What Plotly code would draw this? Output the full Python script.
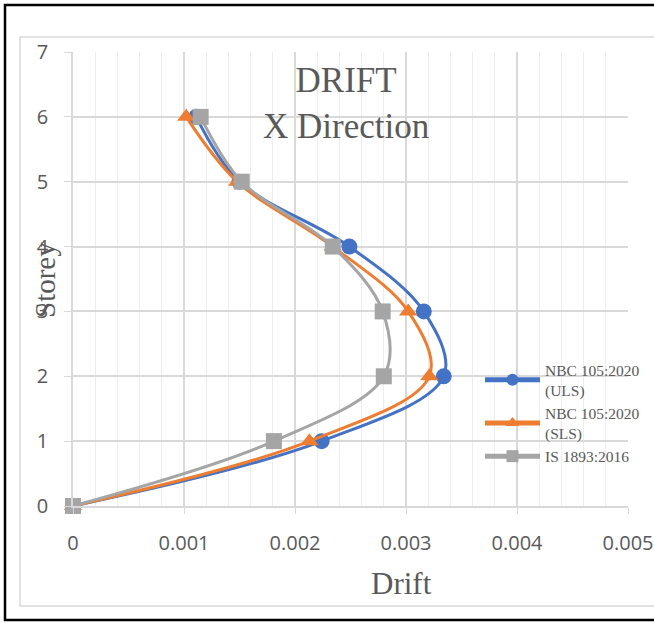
import plotly.graph_objects as go

storey = [0, 1, 2, 3, 4, 5, 6]
uls = [0.0, 0.00224, 0.00334, 0.00316, 0.00249, 0.00150, 0.00111]
sls = [0.0, 0.00213, 0.00321, 0.00302, 0.00234, 0.00148, 0.00102]
is1893 = [0.0, 0.00181, 0.00280, 0.00279, 0.00234, 0.00152, 0.00115]

names = ["NBC 105:2020<br>(ULS)", "NBC 105:2020<br>(SLS)", "IS 1893:2016"]
colors = ["#4472C4", "#ED7D31", "#A5A5A5"]
symbols = ["circle", "triangle-up", "square"]
series = [uls, sls, is1893]

fig = go.Figure()
for name, col, sym, vals in zip(names, colors, symbols, series):
    fig.add_trace(go.Scatter(
        x=vals, y=storey, name=name, mode="lines+markers",
        line=dict(color=col, width=3, shape="spline", smoothing=1),
        marker=dict(color=col, symbol=sym, size=16),
        cliponaxis=False,
    ))

serif = "Liberation Serif, Times New Roman, serif"
sans = "Open Sans, Liberation Sans, Arial, sans-serif"
W, H = 654, 623
L, R, T, B = 73, 628, 52, 506

def px(x):
    return (x - L) / (R - L)

def py(y):
    return (B - y) / (B - T)

fig.update_layout(
    width=W, height=H,
    margin=dict(l=L, r=W - R, t=T, b=H - B, autoexpand=False),
    paper_bgcolor="white", plot_bgcolor="white",
    showlegend=True,
    legend=dict(x=px(480), y=py(353), xanchor="left", yanchor="top",
                font=dict(family=serif, size=15.5, color="#595959"),
                itemsizing="constant", itemwidth=55, tracegroupgap=7,
                bgcolor="rgba(0,0,0,0)"),
    xaxis=dict(range=[0, 0.005], dtick=0.001, tick0=0, automargin=False,
               showgrid=True, gridcolor="#D9D9D9", gridwidth=1.5,
               minor=dict(dtick=0.0002, showgrid=True, gridcolor="#EDEDED", gridwidth=1),
               showline=True, linecolor="#D9D9D9", linewidth=1.5,
               ticks="outside", ticklen=6, ticklabelstandoff=12,
               tickcolor="#D9D9D9", zeroline=False,
               tickfont=dict(family=sans, size=20, color="#595959")),
    yaxis=dict(range=[0, 7], dtick=1, tick0=0, automargin=False,
               showgrid=True, gridcolor="#D9D9D9", gridwidth=1.5,
               showline=True, linecolor="#D9D9D9", linewidth=1.5,
               ticks="outside", ticklen=7, ticklabelstandoff=12,
               tickcolor="#D9D9D9", zeroline=False,
               tickfont=dict(family=sans, size=20, color="#595959")),
    annotations=[
        dict(text="DRIFT<br>X Direction", x=px(346), y=py(103), xref="paper", yref="paper",
             showarrow=False, font=dict(family=serif, size=35, color="#595959"),
             xanchor="center", yanchor="middle"),
        dict(text="Drift", x=px(401), y=py(583), xref="paper", yref="paper",
             showarrow=False, font=dict(family=serif, size=31, color="#595959"),
             xanchor="center", yanchor="middle"),
        dict(text="Storey", x=px(45), y=py(280), xref="paper", yref="paper",
             showarrow=False, textangle=-90, font=dict(family=serif, size=29, color="#595959"),
             xanchor="center", yanchor="middle"),
    ],
    shapes=[
        dict(type="rect", xref="paper", yref="paper",
             x0=px(20), x1=px(670), y0=py(606), y1=py(37),
             line=dict(color="#D9D9D9", width=1.5), layer="below"),
        dict(type="rect", xref="paper", yref="paper",
             x0=px(5), x1=px(680), y0=py(620), y1=py(5),
             line=dict(color="black", width=2.5)),
    ],
)

fig.write_html("out.html")
